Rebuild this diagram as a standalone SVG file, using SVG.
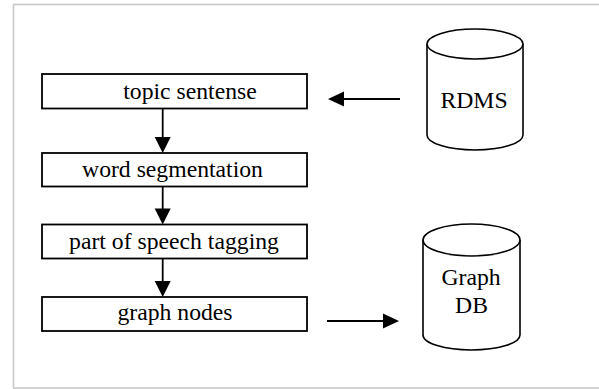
<svg xmlns="http://www.w3.org/2000/svg" width="599" height="389" viewBox="0 0 599 389">
  <style>
    .frame { fill: #ffffff; stroke: #c8c8c8; stroke-width: 1.6; }
    .box { fill: #ffffff; stroke: #000000; stroke-width: 1.8; }
    .db { fill: #ffffff; stroke: #000000; stroke-width: 1.6; }
    .edge { stroke: #000000; stroke-width: 1.8; fill: none; }
    .head { fill: #000000; }
    .label { font-family: 'Liberation Serif', 'DejaVu Serif', serif; font-size: 23.7px; fill: #000000; text-anchor: middle; }
  </style>

  <rect class="frame" x="13.5" y="4.5" width="590" height="383.5"/>

  <!-- processing pipeline -->
  <g id="topic-sentense">
    <rect class="box" x="42" y="74" width="265" height="34.5"/>
    <text class="label" font-family="Liberation Serif" x="190" y="98.5">topic sentense</text>
  </g>
  <g id="word-segmentation">
    <rect class="box" x="42" y="153" width="265" height="33.5"/>
    <text class="label" font-family="Liberation Serif" x="172.5" y="176.5">word segmentation</text>
  </g>
  <g id="pos-tagging">
    <rect class="box" x="42" y="224.5" width="265" height="34"/>
    <text class="label" font-family="Liberation Serif" x="174" y="248.5">part of speech tagging</text>
  </g>
  <g id="graph-nodes">
    <rect class="box" x="42" y="297" width="265" height="34"/>
    <text class="label" font-family="Liberation Serif" x="175" y="319.5">graph nodes</text>
  </g>

  <!-- data stores -->
  <g id="rdms">
    <path class="db" d="M427,44 A48,15 0 0 1 523,44 L523,135 A48,15 0 0 1 427,135 Z"/>
    <path class="db" d="M427,44 A48,15 0 0 0 523,44"/>
    <text class="label" font-family="Liberation Serif" x="474" y="108">RDMS</text>
  </g>
  <g id="graph-db">
    <path class="db" d="M423,240 A48.5,16 0 0 1 520,240 L520,335 A48.5,15 0 0 1 423,335 Z"/>
    <path class="db" d="M423,240 A48.5,16 0 0 0 520,240"/>
    <text class="label" font-family="Liberation Serif" x="471" y="285">Graph</text>
    <text class="label" font-family="Liberation Serif" x="471.5" y="313">DB</text>
  </g>

  <!-- connectors -->
  <g id="connectors">
    <line class="edge" x1="162.7" y1="108.5" x2="162.7" y2="140"/>
    <polygon class="head" points="154.7,137 170.7,137 162.7,153"/>
    <line class="edge" x1="162.7" y1="186.5" x2="162.7" y2="212"/>
    <polygon class="head" points="154.7,208.5 170.7,208.5 162.7,224.5"/>
    <line class="edge" x1="162.7" y1="258.5" x2="162.7" y2="284"/>
    <polygon class="head" points="154.7,281 170.7,281 162.7,297"/>
    <line class="edge" x1="400" y1="99" x2="340" y2="99"/>
    <polygon class="head" points="328,99 344,91.5 344,106.5"/>
    <line class="edge" x1="327" y1="321" x2="386" y2="321"/>
    <polygon class="head" points="399,321 383,313.5 383,328.5"/>
  </g>
</svg>
